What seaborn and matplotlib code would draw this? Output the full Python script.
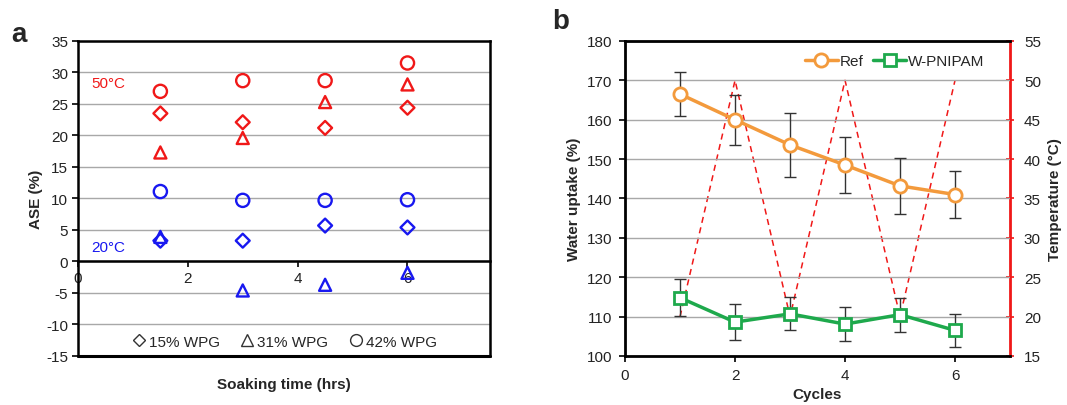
import numpy as np
import pandas as pd
import matplotlib
matplotlib.use("Agg")
import matplotlib.pyplot as plt
import seaborn as sns
from matplotlib.lines import Line2D

# ---- panel a data: ASE (%) vs soaking time ----
soak_time = [1.5, 3.0, 4.5, 6.0]
hot_15 = [23.5, 22.1, 21.2, 24.4]
hot_31 = [17.3, 19.6, 25.3, 28.1]
hot_42 = [27.0, 28.7, 28.7, 31.5]
cold_15 = [3.3, 3.3, 5.7, 5.4]
cold_31 = [3.9, -4.6, -3.7, -1.8]
cold_42 = [11.1, 9.7, 9.7, 9.8]

# ---- panel b data: water uptake over cycles ----
cycles = [1, 2, 3, 4, 5, 6]
ref_uptake = [166.5, 160.0, 153.6, 148.5, 143.2, 141.0]
ref_err = [5.6, 6.3, 8.1, 7.2, 7.1, 5.9]
pnipam_uptake = [114.8, 108.6, 110.7, 108.1, 110.5, 106.5]
pnipam_err = [4.7, 4.6, 4.2, 4.3, 4.3, 4.2]
temperature = [20, 50, 20, 50, 20, 50]

sns.set_theme(style="white")
plt.rcParams['font.family'] = ['Liberation Sans', 'DejaVu Sans']
plt.rcParams['font.size'] = 11
plt.rcParams['axes.unicode_minus'] = False

fig = plt.figure(figsize=(10.67, 4.06), dpi=100)
ax1 = fig.add_axes([0.0731, 0.1207, 0.386, 0.776])
ax2 = fig.add_axes([0.5858, 0.1207, 0.3608, 0.776])

# ---------------- panel a ----------------
red = '#f01818'
blue = '#1818f0'
groups = [
    (hot_15, 'D', red, 50), (hot_31, '^', red, 75), (hot_42, 'o', red, 90),
    (cold_15, 'D', blue, 50), (cold_31, '^', blue, 75), (cold_42, 'o', blue, 90),
]
for vals, mk, col, sz in groups:
    df = pd.DataFrame({'t': soak_time, 'ase': vals})
    sns.scatterplot(data=df, x='t', y='ase', marker=mk, s=sz, facecolors='none',
                    edgecolors=col, linewidths=1.7, ax=ax1, zorder=3)

ax1.set_xlim(0, 7.5)
ax1.set_ylim(-15, 35)
ax1.set_yticks(np.arange(-15, 36, 5))
ax1.set_xticks([0, 2, 4, 6])
ax1.yaxis.grid(True, color='#a8a8a8', lw=1)
ax1.set_axisbelow(True)
for s in ['left', 'right', 'top', 'bottom']:
    ax1.spines[s].set_color('black')
    ax1.spines[s].set_linewidth(1.8)
ax1.spines['bottom'].set_position(('data', 0))
ax1.axhline(-15, color='black', lw=2.2, clip_on=False, zorder=5)
ax1.tick_params(axis='y', direction='out', length=4, width=1.2, color='black',
                left=True, pad=3, labelsize=11, labelcolor='#222222')
ax1.tick_params(axis='x', direction='out', length=4, width=1.2, color='black',
                bottom=True, pad=3, labelsize=11, labelcolor='#222222')
ax1.set_xlabel('Soaking time (hrs)', fontweight='bold', fontsize=11)
ax1.xaxis.set_label_coords(0.5, -0.09)
ax1.xaxis.label.set_va('center')
ax1.set_ylabel('ASE (%)', fontweight='bold', fontsize=11, labelpad=2)
ax1.text(0.033, 0.868, '50°C', transform=ax1.transAxes, color=red, fontsize=11,
         ha='left', va='center')
ax1.text(0.033, 0.346, '20°C', transform=ax1.transAxes, color=blue,
         fontsize=11, ha='left', va='center')

handles = [Line2D([], [], ls='none', marker=m, markersize=ms, markerfacecolor='none',
                  markeredgecolor='#333333', markeredgewidth=1.0)
           for m, ms in [('D', 6.5), ('^', 8.5), ('o', 8.5)]]
ax1.legend(handles, ['15% WPG', '31% WPG', '42% WPG'], ncol=3, frameon=False,
           loc='center', bbox_to_anchor=(0.5, 0.045), handletextpad=0.15,
           columnspacing=1.3, handlelength=1.0, fontsize=11)

# ---------------- panel b ----------------
orange = '#f39a3c'
green = '#1ea94c'
dfb = pd.DataFrame({'cycle': cycles, 'ref': ref_uptake, 'pn': pnipam_uptake})

ax2.errorbar(cycles, ref_uptake, yerr=ref_err, fmt='none', ecolor='#333333',
             elinewidth=1.0, capsize=4, capthick=1.0, zorder=2)
ax2.errorbar(cycles, pnipam_uptake, yerr=pnipam_err, fmt='none', ecolor='#333333',
             elinewidth=1.0, capsize=4, capthick=1.0, zorder=2)
sns.lineplot(data=dfb, x='cycle', y='ref', color=orange, lw=2.5, marker='o',
             markersize=9.5, markerfacecolor='white', markeredgecolor=orange,
             markeredgewidth=2, ax=ax2, label='Ref', zorder=4)
sns.lineplot(data=dfb, x='cycle', y='pn', color=green, lw=2.5, marker='s',
             markersize=9, markerfacecolor='white', markeredgecolor=green,
             markeredgewidth=2, ax=ax2, label='W-PNIPAM', zorder=4)

ax2.set_xlim(0, 7)
ax2.set_ylim(100, 180)
ax2.set_xticks([0, 2, 4, 6])
ax2.set_yticks(np.arange(100, 181, 10))
ax2.yaxis.grid(True, color='#a8a8a8', lw=1)
ax2.set_axisbelow(True)
for s in ['left', 'bottom', 'top']:
    ax2.spines[s].set_color('black')
    ax2.spines[s].set_linewidth(2)
ax2.spines['right'].set_visible(False)
ax2.tick_params(axis='both', direction='out', length=4, width=1.2, color='black',
                left=True, bottom=True, pad=5, labelsize=11, labelcolor='#222222')
ax2.set_xlabel('Cycles', fontweight='bold', fontsize=11, labelpad=3)
ax2.set_ylabel('Water uptake (%)', fontweight='bold', fontsize=11, labelpad=4)
ax2.legend(loc='center', bbox_to_anchor=(0.70, 0.935), ncol=2, frameon=False,
           handlelength=2.2, handletextpad=0.1, columnspacing=0.6, fontsize=11,
           borderaxespad=0)

ax3 = ax2.twinx()
sns.lineplot(x=cycles, y=temperature, color='#f01818', lw=1.1, ax=ax3,
             dashes=False, zorder=1)
ax3.lines[0].set_linestyle((0, (4, 3)))
ax3.set_ylim(15, 55)
ax3.set_yticks(np.arange(15, 56, 5))
for s in ['left', 'bottom', 'top']:
    ax3.spines[s].set_visible(False)
ax3.spines['right'].set_color('#f01818')
ax3.spines['right'].set_linewidth(2)
ax3.tick_params(axis='y', direction='inout', length=6, width=1.2, color='#f01818',
                right=True, pad=7, labelsize=11, labelcolor='#222222')
ax3.set_ylabel('Temperature (°C)', fontweight='bold', fontsize=11, labelpad=5)
ax3.set_zorder(ax2.get_zorder() - 1)
ax2.patch.set_visible(False)

fig.text(0.011, 0.915, 'a', fontsize=20, fontweight='bold', va='center')
fig.text(0.518, 0.945, 'b', fontsize=20, fontweight='bold', va='center')

fig.savefig('out.png', dpi=100)
